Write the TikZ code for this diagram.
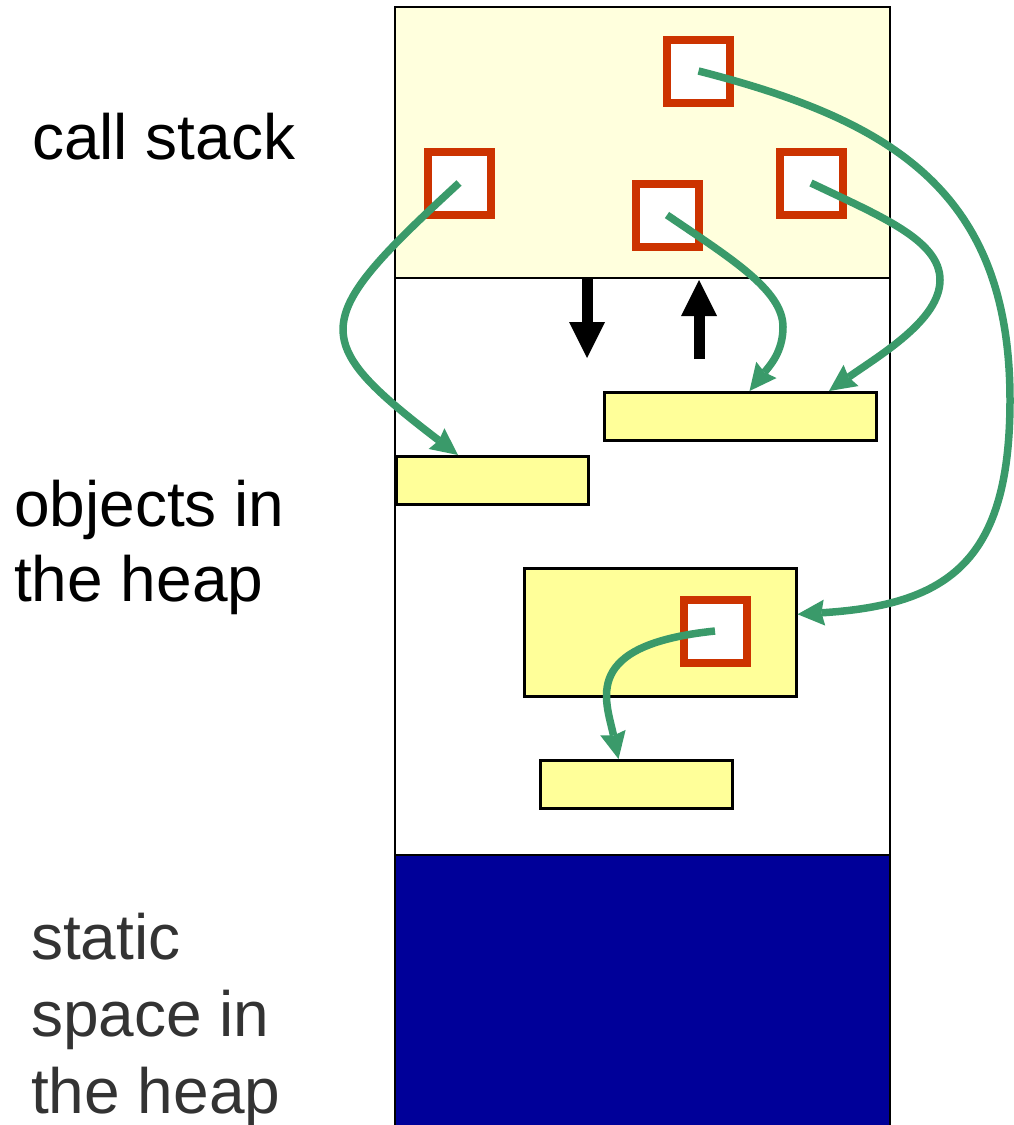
\documentclass[tikz,border=0pt]{standalone}
\usepackage{fontspec}
\setmainfont{Liberation Sans}
\usetikzlibrary{arrows.meta,positioning}
\definecolor{StackYellow}{HTML}{FFFFDD}
\definecolor{ObjYellow}{HTML}{FFFF99}
\definecolor{FrameRed}{HTML}{CC3300}
\definecolor{PtrGreen}{HTML}{3A9A6A}
\definecolor{StaticBlue}{HTML}{000099}
\definecolor{LabelGray}{HTML}{333333}
\tikzset{region/.style={draw=black,line width=2.5pt,outer sep=0pt,inner sep=0pt,
minimum width=495pt},
obj/.style={draw=black,line width=2.5pt,fill=ObjYellow,inner sep=0pt,anchor=north west},
stackframe/.style={draw=FrameRed,line width=8pt,fill=white,inner sep=0pt,minimum size=63pt},
ptr/.style={-{Stealth[length=27pt,width=26pt,inset=3pt,line width=0pt]},line width=7.5pt,draw=PtrGreen},
growth/.style={-{Triangle[length=36pt,width=36pt,line width=0pt]},line width=11pt,draw=black},
sidetext/.style={inner sep=0pt,anchor=north west,align=left,font=\fontsize{64}{75}\selectfont}}

\begin{document}
\begin{tikzpicture}[x=1pt,y=-1pt]
\useasboundingbox (0,0) rectangle (1013,1125);
\node[region,fill=StackYellow,minimum height=271pt,anchor=north west](stack) at (395,7){};
\node[region,fill=white,minimum height=577pt,below=0pt of stack](heap){};
\node[region,fill=StaticBlue,minimum height=280pt,below=0pt of heap](static){};
\node[sidetext](lblStack) at (32,113){call stack};
\node[sidetext](lblHeap) at (14,480){objects in\\the heap};
\node[sidetext,text=LabelGray,font=\fontsize{64}{77}\selectfont](lblStatic) at (31,913){static\\space in\\the heap};
% objects in the heap
\node[obj,minimum width=272pt,minimum height=48pt](objA) at (603,391){};
\node[obj,minimum width=192pt,minimum height=48pt](objB) at (395,455){};
\node[obj,minimum width=272pt,minimum height=128pt](objC) at (523,567){};
\node[obj,minimum width=192pt,minimum height=48pt](objD) at (539,759){};
% frames on the stack
\node[stackframe](f1) at (459,183){};
\node[stackframe](f2) at (667,215){};
\node[stackframe](f3) at (811,183){};
\node[stackframe](f4) at (698.5,71){};
\node[stackframe](f5) at (715,631){};
% stack grows / shrinks
\coordinate (pushTop) at (587,278);\coordinate (pushEnd) at (587,358);
\coordinate (popBase) at (699,359);\coordinate (popEnd) at (699,280);
\draw[growth](pushTop)--(pushEnd);
\draw[growth](popBase)--(popEnd);
% references
\draw[ptr](f1.center) .. controls (310,320) and (306,339) .. ([xshift=63pt]objB.north west);
\draw[ptr](f2.center) .. controls (730,258) and (783,290) .. (783,327)
  .. controls (783,352) and (769.5,366) .. ([xshift=146.5pt]objA.north west);
\draw[ptr](f3.center) .. controls (880,216) and (940,240) .. (940,280)
  .. controls (940,320) and (880,355) .. ([xshift=226pt]objA.north west);
\draw[ptr](f4.center) .. controls (890,120) and (1010,190) .. (1010,400)
  .. controls (1010,560) and (950,605) .. ([yshift=18pt]objC.east);
\draw[ptr](f5.center) .. controls (580,645) and (606,700) .. ([xshift=79.5pt]objD.north west);
\end{tikzpicture}
\end{document}
